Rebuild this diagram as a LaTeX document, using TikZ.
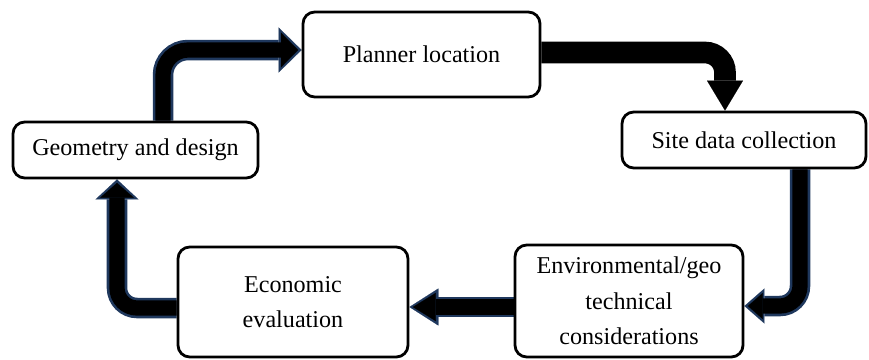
\documentclass[tikz,border=0pt]{standalone}
\usepackage{fontspec}
\setmainfont{Liberation Serif}
\usetikzlibrary{arrows.meta,backgrounds}
\definecolor{navy}{RGB}{31,56,93}
\tikzset{
  box/.style={draw, line width=2.4pt, rounded corners=10pt, fill=white, align=center,
    font=\fontsize{20.6}{30.5}\selectfont},
  shaftout/.style={draw=navy, line width=17.5pt, rounded corners=0.6cm},
  shaftin/.style={draw=black, line width=13pt, rounded corners=0.6cm, shorten >=3pt},
}
\begin{document}
\begin{tikzpicture}[x=0.03cm, y=-0.03cm]
\useasboundingbox (0,0) rectangle (869,359);
% boxes
\node[box, minimum width=7.11cm, minimum height=2.55cm] (plan) at (421.5,54.5) {Planner location};
\node[box, minimum width=7.32cm, minimum height=1.68cm] (site) at (744,140) {Site data collection};
\node[box, minimum width=6.84cm, minimum height=3.36cm] (env) at (629,301) {Environmental/geo\\technical\\considerations};
\node[box, minimum width=6.9cm, minimum height=3.3cm] (econ) at (293,302) {Economic\\evaluation};
\node[box, minimum width=7.35cm, minimum height=1.68cm] (geo) at (135.5,150) {Geometry and design};
% arrows
\begin{scope}[on background layer]
\draw[shaftout, rounded corners=0.75cm, -{Triangle[length=19.6pt, width=38.4pt, line width=0.1pt]}]
  ([xshift=0.825cm]geo.north) |- ([yshift=0.135cm]plan.west);
\draw[shaftin, rounded corners=0.75cm, -{Triangle[length=14.5pt, width=29.5pt, line width=0.1pt]}]
  ([xshift=0.825cm]geo.north) |- ([yshift=0.135cm]plan.west);
\draw[draw=black, line width=18.5pt, rounded corners=0.6cm, -{Triangle[length=25.6pt, width=30.7pt, line width=0.1pt]}]
  ([yshift=0.06cm]plan.east) -| ([xshift=-0.57cm]site.north);
\draw[shaftout, -{Triangle[length=17.1pt, width=29.9pt, line width=0.1pt]}]
  ([xshift=1.68cm]site.south) |- ([yshift=-0.15cm]env.east);
\draw[shaftin, -{Triangle[length=12.5pt, width=22pt, line width=0.1pt]}]
  ([xshift=1.68cm]site.south) |- ([yshift=-0.15cm]env.east);
\draw[shaftout, -{Triangle[length=24.7pt, width=31.6pt, line width=0.1pt]}]
  ([yshift=-0.18cm]env.west) -- ([yshift=-0.18cm]env.west -| econ.east);
\draw[shaftin, -{Triangle[length=19.5pt, width=24pt, line width=0.1pt]}]
  ([yshift=-0.18cm]env.west) -- ([yshift=-0.18cm]env.west -| econ.east);
\draw[shaftout, -{Triangle[length=17.1pt, width=36.7pt, line width=0.1pt]}]
  ([yshift=-0.18cm]econ.west) -| ([xshift=-0.555cm]geo.south);
\draw[shaftin, -{Triangle[length=12.5pt, width=28.5pt, line width=0.1pt]}]
  ([yshift=-0.18cm]econ.west) -| ([xshift=-0.555cm]geo.south);
\end{scope}
\end{tikzpicture}
\end{document}
